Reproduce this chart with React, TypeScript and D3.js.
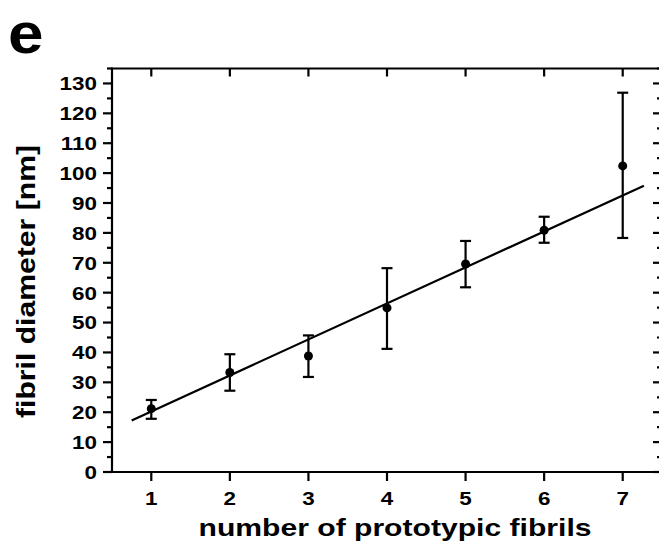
import React from "react";
import * as d3 from "d3";

const fibrilCounts = [1, 2, 3, 4, 5, 6, 7];
const diameters = [21.2, 33.3, 38.8, 54.9, 69.6, 80.9, 102.4];
const errUpper = [24.1, 39.4, 45.7, 68.2, 77.3, 85.4, 126.9];
const errLower = [17.8, 27.2, 31.8, 41.2, 61.8, 76.7, 78.3];
const fitSlope = 12.05;
const fitIntercept = 8.2;
const fitRange = [0.75, 7.27];
const yMajorTicks = [0, 10, 20, 30, 40, 50, 60, 70, 80, 90, 100, 110, 120, 130];
const yMinorTicks = [5, 15, 25, 35, 45, 55, 65, 75, 85, 95, 105, 115, 125, 135];
const xTicks = [1, 2, 3, 4, 5, 6, 7];

const W = 659;
const H = 546;
const FONT = "'Liberation Sans', Arial, Helvetica, sans-serif";

export default function App() {
  const x = d3.scaleLinear().domain([0.5, 7.5]).range([112, 662]);
  const y = d3.scaleLinear().domain([0, 135]).range([472, 68.5]);
  const line = d3
    .line<number>()
    .x((d) => x(d))
    .y((d) => y(fitSlope * d + fitIntercept));
  const sw = 2.2;
  const [x0, x1] = x.range();
  const [y0, y1] = y.range();
  const sx = 1.18;
  return (
    <svg
      width={W}
      height={H}
      style={{ position: "absolute", left: 0, top: 0, background: "#fff" }}
    >
      <rect x={0} y={0} width={W} height={H} fill="#fff" />
      <text
        transform="translate(8,53) scale(1.1,1)"
        fontFamily={FONT}
        fontWeight="bold"
        fontSize={58}
        fill="#000"
      >
        e
      </text>
      {/* frame */}
      <g stroke="#000" strokeWidth={sw} fill="none">
        <line x1={x0} x2={x1} y1={y0} y2={y0} />
        <line x1={x0} x2={x1} y1={y1} y2={y1} />
        <line x1={x0} x2={x0} y1={y0 + sw / 2} y2={y1 - sw / 2} />
        <line x1={x1} x2={x1} y1={y0} y2={y1} />
        {yMajorTicks.map((t) => (
          <line key={"lm" + t} x1={x0 - 9} x2={x0} y1={y(t)} y2={y(t)} />
        ))}
        {yMinorTicks.map((t) => (
          <line key={"ln" + t} x1={x0 - 5} x2={x0} y1={y(t)} y2={y(t)} />
        ))}
        {yMajorTicks.map((t) => (
          <line key={"rm" + t} x1={x1 - 9} x2={x1} y1={y(t)} y2={y(t)} />
        ))}
        {yMinorTicks.map((t) => (
          <line key={"rn" + t} x1={x1 - 5} x2={x1} y1={y(t)} y2={y(t)} />
        ))}
        {xTicks.map((t) => (
          <line key={"b" + t} x1={x(t)} x2={x(t)} y1={y0} y2={y0 + 9} />
        ))}
        {xTicks.map((t) => (
          <line key={"t" + t} x1={x(t)} x2={x(t)} y1={y1} y2={y1 + 8} />
        ))}
      </g>
      <g fontFamily={FONT} fontWeight="bold" fontSize={19} fill="#000">
        {yMajorTicks.map((t) => (
          <text
            key={"yl" + t}
            transform={`translate(97,${y(t)}) scale(${sx},1)`}
            dy="0.36em"
            textAnchor="end"
          >
            {t}
          </text>
        ))}
        {xTicks.map((t) => (
          <text
            key={"xl" + t}
            transform={`translate(${x(t)},505) scale(${sx},1)`}
            textAnchor="middle"
          >
            {t}
          </text>
        ))}
      </g>
      <text
        x={395}
        y={536}
        textAnchor="middle"
        fontFamily={FONT}
        fontWeight="bold"
        fontSize={24}
        textLength={393}
        lengthAdjust="spacingAndGlyphs"
      >
        number of prototypic fibrils
      </text>
      <text
        transform={`translate(35,281.5) rotate(-90)`}
        textAnchor="middle"
        fontFamily={FONT}
        fontWeight="bold"
        fontSize={25}
        textLength={273}
        lengthAdjust="spacingAndGlyphs"
      >
        fibril diameter [nm]
      </text>
      <path d={line(fitRange) || ""} stroke="#000" strokeWidth={2.2} fill="none" />
      <g stroke="#000" strokeWidth={2.2}>
        {fibrilCounts.map((c, i) => (
          <g key={"e" + c}>
            <line x1={x(c)} x2={x(c)} y1={y(errLower[i])} y2={y(errUpper[i])} />
            <line x1={x(c) - 5.5} x2={x(c) + 5.5} y1={y(errLower[i])} y2={y(errLower[i])} />
            <line x1={x(c) - 5.5} x2={x(c) + 5.5} y1={y(errUpper[i])} y2={y(errUpper[i])} />
          </g>
        ))}
      </g>
      {fibrilCounts.map((c, i) => (
        <circle key={"p" + c} cx={x(c)} cy={y(diameters[i])} r={4.5} fill="#000" />
      ))}
    </svg>
  );
}
